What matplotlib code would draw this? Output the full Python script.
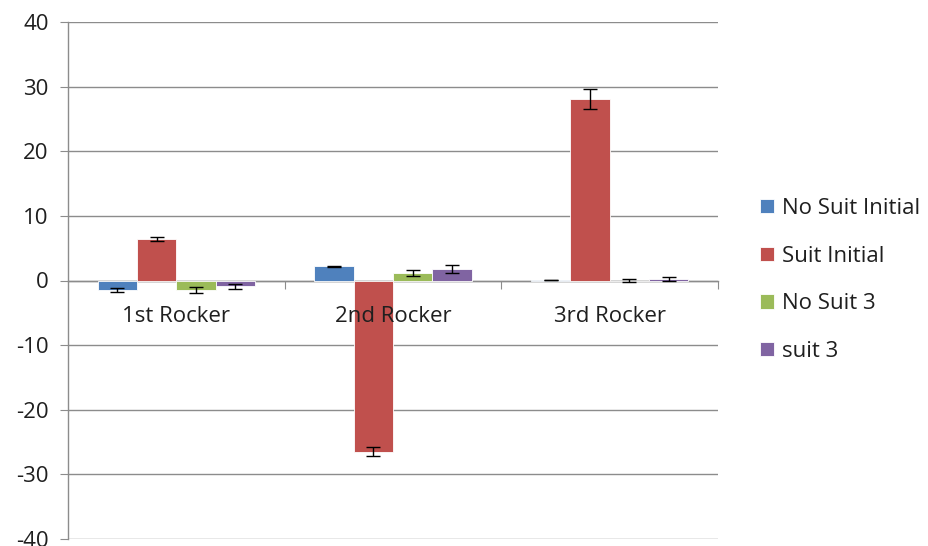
import matplotlib
matplotlib.use("Agg")
import matplotlib.pyplot as plt
import numpy as np

plt.rcParams['font.family'] = ['Open Sans', 'DejaVu Sans']

categories = ["1st Rocker", "2nd Rocker", "3rd Rocker"]
series = ["No Suit Initial", "Suit Initial", "No Suit 3", "suit 3"]
no_suit_initial = [-1.5, 2.2, 0.1]
suit_initial = [6.4, -26.5, 28.1]
no_suit_3 = [-1.5, 1.2, 0.0]
suit_3 = [-0.9, 1.8, 0.2]
err_no_suit_initial = [0.3, 0.1, 0.05]
err_suit_initial = [0.3, 0.7, 1.5]
err_no_suit_3 = [0.5, 0.5, 0.3]
err_suit_3 = [0.4, 0.6, 0.3]
yticks = [-40, -30, -20, -10, 0, 10, 20, 30, 40]

values = [no_suit_initial, suit_initial, no_suit_3, suit_3]
errors = [err_no_suit_initial, err_suit_initial, err_no_suit_3, err_suit_3]
colors = ["#4F81BD", "#C0504D", "#9BBB59", "#8064A2"]
txt = '#1F1F1F'
axc = '#8C8C8C'
fs = 16

fig = plt.figure(figsize=(9.29, 5.46), dpi=100)
ax = fig.add_axes([68/929, 1-539/546, 650/929, 517/546])

n = len(series)
bw = 1.0 / (n + 1.5)
x = np.arange(len(categories))
for i, (vals, errs, c, name) in enumerate(zip(values, errors, colors, series)):
    pos = x + (i - (n - 1) / 2) * bw
    ax.bar(pos, vals, width=bw, color=c, edgecolor='white', linewidth=0.6,
           label=name, zorder=2)
    ax.errorbar(pos, vals, yerr=errs, fmt='none', ecolor='black',
                elinewidth=1, capsize=5, capthick=1, zorder=3)

ax.set_xlim(-0.5, len(categories) - 0.5)
ax.set_ylim(-40, 40)
ax.set_yticks(yticks)
ax.set_yticklabels([str(t) for t in yticks])
ax.yaxis.grid(True, color=axc, linewidth=1, zorder=0)
ax.set_axisbelow(True)
for s in ['top', 'right']:
    ax.spines[s].set_visible(False)
ax.spines['left'].set_color(axc)
ax.spines['left'].set_linewidth(1)
ax.spines['bottom'].set_position(('data', 0))
ax.spines['bottom'].set_color(axc)
ax.spines['bottom'].set_linewidth(1)
ax.spines['bottom'].set_zorder(1)
ax.tick_params(axis='y', direction='out', length=6, color=axc,
               labelsize=fs, pad=8, labelcolor=txt)
ax.set_xticks(np.arange(0.5, len(categories), 1.0))
ax.set_xticklabels([])
ax.tick_params(axis='x', direction='out', length=6, color=axc)

for xi, cat in zip(x, categories):
    ax.annotate(cat, xy=(xi, 0), xytext=(0, -41), textcoords='offset pixels',
                ha='center', va='baseline', fontsize=fs, color=txt)

leg = fig.legend(loc='center left', bbox_to_anchor=(760/929, 1-280/546),
                 frameon=False, fontsize=fs, handlelength=0.62,
                 handleheight=0.62, handletextpad=0.35, labelspacing=1.2,
                 borderpad=0, borderaxespad=0)
for t in leg.get_texts():
    t.set_color(txt)

fig.savefig("out.png", dpi=100)
